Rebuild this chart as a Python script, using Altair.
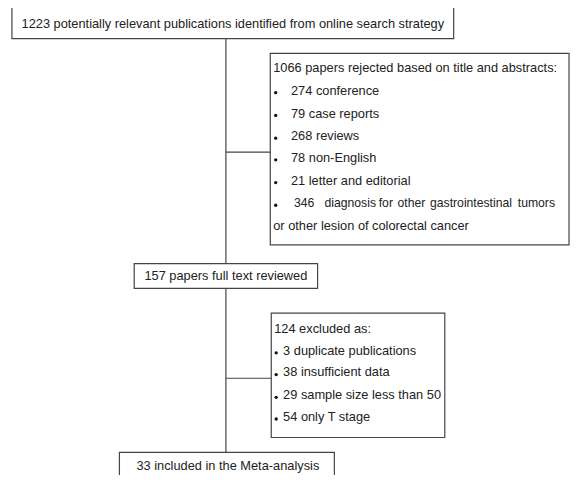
import altair as alt
import pandas as pd

# ---- content (text of the flow diagram) ----
TOP_TEXT = "1223 potentially relevant publications identified from online search strategy"
REJ_HEAD = "1066 papers rejected based on title and abstracts:"
REJ_ITEMS = ["274 conference", "79 case reports", "268 reviews", "78 non-English", "21 letter and editorial"]
REJ_LONG_WORDS = ["346", "diagnosis", "for", "other", "gastrointestinal", "tumors"]
REJ_TAIL = "or other lesion of colorectal cancer"
FULL_TEXT = "157 papers full text reviewed"
EXC_HEAD = "124 excluded as:"
EXC_ITEMS = ["3 duplicate publications", "38 insufficient data", "29 sample size less than 50", "54 only T stage"]
INCL_TEXT = "33 included in the Meta-analysis"

# ---- layout (pixel-like layout coordinates) ----
BOXES = {
    "top": (12, 460, 7, 39),
    "rej": (274, 577, 54, 248),
    "full": (136, 322, 267, 292),
    "exc": (275, 451, 317, 443),
    "incl": (121, 339, 458, 520),
}
SPINE_X = 229
CONNECTORS = [  # x, y, x2, y2
    (SPINE_X, 39, SPINE_X, 458),
    (SPINE_X, 154, 274, 154),
    (SPINE_X, 383, 275, 383),
]
REJ_LINE_Y = [69, 92, 115, 138, 160, 183, 206, 229]
REJ_LONG_X = [298, 329, 384, 403, 436, 525]
EXC_LINE_Y = [333, 355, 377, 400, 422]

FONT = "Liberation Sans"
FS = 12.8
TXT = "#222222"
STROKE = "#454545"

# ---- tables ----
rects = pd.DataFrame([
    {"name": k, "x": v[0], "x2": v[1], "y": v[2], "y2": v[3]} for k, v in BOXES.items()
])
rules = pd.DataFrame([{"x": a, "y": b, "x2": c, "y2": d} for a, b, c, d in CONNECTORS])

centered = pd.DataFrame([
    {"x": 236, "y": 24, "text": TOP_TEXT},
    {"x": 229, "y": 279.5, "text": FULL_TEXT},
    {"x": 231, "y": 471.5, "text": INCL_TEXT},
])

left_rows = [{"x": 277, "y": REJ_LINE_Y[0], "text": REJ_HEAD}]
for i, t in enumerate(REJ_ITEMS):
    left_rows.append({"x": 295, "y": REJ_LINE_Y[i + 1], "text": t})
left_rows.append({"x": 277, "y": REJ_LINE_Y[7], "text": REJ_TAIL})
left_rows.append({"x": 278, "y": EXC_LINE_Y[0], "text": EXC_HEAD})
for i, t in enumerate(EXC_ITEMS):
    left_rows.append({"x": 287, "y": EXC_LINE_Y[i + 1], "text": t})
left_text = pd.DataFrame(left_rows)

long_line = pd.DataFrame([
    {"x": wx, "y": REJ_LINE_Y[6], "text": w} for wx, w in zip(REJ_LONG_X, REJ_LONG_WORDS)
])

bullet_rows = [{"x": 279.5, "y": y + 1.8} for y in REJ_LINE_Y[1:7]]
bullet_rows += [{"x": 280, "y": y + 2.3} for y in EXC_LINE_Y[1:]]
bullets = pd.DataFrame(bullet_rows)

xs = alt.Scale(domain=[8, 579], nice=False, zero=False)
ys = alt.Scale(domain=[8, 481], nice=False, zero=False, reverse=True)

X = lambda f="x": alt.X(f"{f}:Q", scale=xs, axis=None)
Y = lambda f="y": alt.Y(f"{f}:Q", scale=ys, axis=None)

rule_layer = alt.Chart(rules).mark_rule(color=STROKE, strokeWidth=1.2).encode(
    x=X(), y=Y(), x2="x2:Q", y2="y2:Q"
)
rect_layer = alt.Chart(rects).mark_rect(
    fill="white", stroke=STROKE, strokeWidth=1.2, clip=True
).encode(x=X(), x2="x2:Q", y=Y(), y2="y2:Q")
center_layer = alt.Chart(centered).mark_text(
    font=FONT, fontSize=FS, color=TXT, align="center", baseline="middle"
).encode(x=X(), y=Y(), text="text:N")
left_layer = alt.Chart(left_text).mark_text(
    font=FONT, fontSize=FS, color=TXT, align="left", baseline="middle"
).encode(x=X(), y=Y(), text="text:N")
long_layer = alt.Chart(long_line).mark_text(
    font=FONT, fontSize=12.2, color=TXT, align="left", baseline="middle"
).encode(x=X(), y=Y(), text="text:N")
bullet_layer = alt.Chart(bullets).mark_point(
    filled=True, shape="circle", size=11, color="#111111", opacity=1
).encode(x=X(), y=Y())

chart = alt.layer(
    rule_layer, rect_layer, center_layer, left_layer, long_layer, bullet_layer
).properties(
    width=563, height=467, padding=0, autosize=alt.AutoSizeParams(type="none"),
    background="white"
).configure_view(stroke=None)

chart.save("out.html", embed_options={"renderer": "svg", "actions": False})
